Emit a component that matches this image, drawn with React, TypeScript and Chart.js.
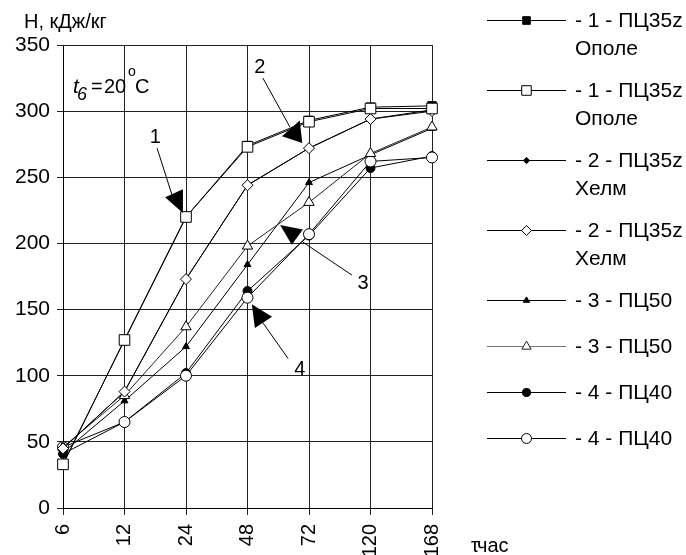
import React, { useEffect, useRef } from 'react';
import { Chart, registerables } from 'chart.js';

Chart.register(...registerables);

const FONT = '"Liberation Sans", Arial, sans-serif';

// ---- data ----
const categories = ['6', '12', '24', '48', '72', '120', '168'];
const yMin = 0;
const yMax = 350;
const yStep = 50;

const s1Filled = [33, 127, 220, 274, 293, 303, 304];
const s1Open = [33, 127, 220, 273, 292, 302, 302];
const s2Filled = [45, 88, 173, 244, 272, 294, 301];
const s2Open = [45, 88, 173, 244, 272, 294, 300];
const s3Filled = [42, 81, 122, 184, 246, 267, 287];
const s3Open = [46, 85, 137, 198, 231, 268, 288];
const s4Filled = [41, 65, 102, 164, 206, 257, 266];
const s4Open = [46, 65, 100, 159, 207, 262, 265];

const seriesLabels = [
  ['- 1 - ПЦ35z', 'Ополе'],
  ['- 1 - ПЦ35z', 'Ополе'],
  ['- 2 - ПЦ35z', 'Хелм'],
  ['- 2 - ПЦ35z', 'Хелм'],
  ['- 3 - ПЦ50'],
  ['- 3 - ПЦ50'],
  ['- 4 - ПЦ40'],
  ['- 4 - ПЦ40'],
];

const yTitle = 'H, кДж/кг';
const xTitleSymbol = 'τ';
const xTitleUnit = 'час';

// curve annotation labels (1..4) with leader lines and arrow heads, in data space (category index, value)
const arrowLabels = ['1', '2', '3', '4'];
const arrowLabelAt: [number, number][] = [[1.5, 280], [3.2, 333], [4.88, 170], [3.85, 105]];
const arrowLineFrom: [number, number][] = [[1.53, 272], [3.25, 325], [4.7, 176], [3.66, 113]];
const arrowLineTo: [number, number][] = [[1.77, 237], [3.69, 288], [3.9, 201], [3.25, 140]];
const arrowHeads: [number, number][][] = [
  [[1.66, 235], [1.95, 241], [1.95, 223]],
  [[3.56, 281], [3.85, 293], [3.89, 276]],
  [[3.53, 214], [3.9, 210.5], [3.72, 199]],
  [[3.07, 154], [3.4, 144.5], [3.12, 136]],
];

type Style = { pointStyle: string; radius: number; fill: string; color: string };
const styles: Style[] = [
  { pointStyle: 'rect', radius: 6, fill: '#000', color: '#000' },
  { pointStyle: 'rect', radius: 7.5, fill: '#fff', color: '#000' },
  { pointStyle: 'rectRot', radius: 3.5, fill: '#000', color: '#000' },
  { pointStyle: 'rectRot', radius: 5.5, fill: '#fff', color: '#000' },
  { pointStyle: 'triangle', radius: 4, fill: '#000', color: '#000' },
  { pointStyle: 'triangle', radius: 6, fill: '#fff', color: '#222' },
  { pointStyle: 'circle', radius: 4.5, fill: '#000', color: '#000' },
  { pointStyle: 'circle', radius: 5.5, fill: '#fff', color: '#000' },
];
const seriesData = [s1Filled, s1Open, s2Filled, s2Open, s3Filled, s3Open, s4Filled, s4Open];

function drawMarker(ctx: CanvasRenderingContext2D, st: Style, x: number, y: number, r: number) {
  ctx.save();
  ctx.beginPath();
  if (st.pointStyle === 'rect') {
    const s = Math.SQRT1_2 * r;
    ctx.rect(x - s, y - s, 2 * s, 2 * s);
  } else if (st.pointStyle === 'rectRot') {
    ctx.moveTo(x, y - r);
    ctx.lineTo(x + r, y);
    ctx.lineTo(x, y + r);
    ctx.lineTo(x - r, y);
    ctx.closePath();
  } else if (st.pointStyle === 'triangle') {
    ctx.moveTo(x, y - r);
    ctx.lineTo(x + r * Math.sin((2 * Math.PI) / 3), y - r * Math.cos((2 * Math.PI) / 3));
    ctx.lineTo(x + r * Math.sin((4 * Math.PI) / 3), y - r * Math.cos((4 * Math.PI) / 3));
    ctx.closePath();
  } else {
    ctx.arc(x, y, r, 0, Math.PI * 2);
  }
  ctx.fillStyle = st.fill;
  ctx.fill();
  ctx.lineWidth = 1;
  ctx.strokeStyle = st.color;
  ctx.stroke();
  ctx.restore();
}

const overlayPlugin = {
  id: 'overlay',
  afterDatasetsDraw(chart: any) {
    const ctx: CanvasRenderingContext2D = chart.ctx;
    const xs = chart.scales.x;
    const ys = chart.scales.y;
    const px = (i: number) => xs.getPixelForValue(i);
    const py = (v: number) => ys.getPixelForValue(v);
    ctx.save();
    arrowLabels.forEach((lab, k) => {
      ctx.strokeStyle = '#000';
      ctx.lineWidth = 1;
      ctx.beginPath();
      ctx.moveTo(px(arrowLineFrom[k][0]), py(arrowLineFrom[k][1]));
      ctx.lineTo(px(arrowLineTo[k][0]), py(arrowLineTo[k][1]));
      ctx.stroke();
      const h = arrowHeads[k];
      ctx.fillStyle = '#000';
      ctx.beginPath();
      ctx.moveTo(px(h[0][0]), py(h[0][1]));
      ctx.lineTo(px(h[1][0]), py(h[1][1]));
      ctx.lineTo(px(h[2][0]), py(h[2][1]));
      ctx.closePath();
      ctx.fill();
      ctx.font = `20px ${FONT}`;
      ctx.textAlign = 'center';
      ctx.textBaseline = 'middle';
      ctx.fillText(lab, px(arrowLabelAt[k][0]), py(arrowLabelAt[k][1]));
    });
    ctx.restore();
  },
  afterDraw(chart: any) {
    const ctx: CanvasRenderingContext2D = chart.ctx;
    const area = chart.chartArea;
    ctx.save();
    ctx.fillStyle = '#000';
    ctx.textAlign = 'left';
    ctx.textBaseline = 'alphabetic';
    // y title
    ctx.font = `20px ${FONT}`;
    ctx.fillText(yTitle, 24, 28);
    // x title
    ctx.font = `20px ${FONT}`;
    ctx.fillText(xTitleSymbol, area.right + 39, 552);
    ctx.fillText(xTitleUnit, area.right + 45, 552);
    // t6 = 20 °C
    const bx = area.left + 10;
    const by = 93;
    ctx.font = `italic 21px ${FONT}`;
    ctx.fillText('t', bx, by);
    ctx.font = `italic 18px ${FONT}`;
    ctx.fillText('6', bx + 4, by + 7);
    ctx.font = `20px ${FONT}`;
    ctx.fillText('=', bx + 18, by);
    ctx.fillText('20', bx + 31, by);
    ctx.font = `14px ${FONT}`;
    ctx.fillText('o', bx + 55, by - 17);
    ctx.font = `20px ${FONT}`;
    ctx.fillText('C', bx + 62, by);

    // legend
    const lx0 = 487;
    const lx1 = 566;
    const tx = 575;
    let ly = 20;
    seriesLabels.forEach((lines, i) => {
      const st = styles[i];
      ctx.strokeStyle = i === 5 ? '#777' : '#000';
      ctx.lineWidth = 1;
      ctx.beginPath();
      ctx.moveTo(lx0, ly + 0.5);
      ctx.lineTo(lx1, ly + 0.5);
      ctx.stroke();
      drawMarker(ctx, st, (lx0 + lx1) / 2, ly + 0.5, st.radius * 0.9);
      ctx.fillStyle = '#000';
      ctx.font = `21px ${FONT}`;
      ctx.textAlign = 'left';
      ctx.textBaseline = 'middle';
      lines.forEach((t, j) => ctx.fillText(t, tx, ly + 1 + j * 28));
      ly += lines.length > 1 ? 70 : 46;
    });
    ctx.restore();
  },
};

export default function App() {
  const ref = useRef<HTMLCanvasElement>(null);
  useEffect(() => {
    if (!ref.current) return;
    const chart = new Chart(ref.current, {
      type: 'line',
      data: {
        labels: categories,
        datasets: seriesData.map((d, i) => ({
          label: seriesLabels[i].join(' '),
          data: d,
          borderColor: styles[i].color,
          borderWidth: 1,
          pointStyle: styles[i].pointStyle as any,
          pointRadius: styles[i].radius,
          pointBackgroundColor: styles[i].fill,
          pointBorderColor: '#000',
          pointBorderWidth: 1,
          fill: false,
          tension: 0,
          order: i % 2 === 1 ? 0 : 1,
        })),
      },
      options: {
        responsive: false,
        animation: false,
        events: [],
        layout: { padding: { left: 0, top: 45, right: 254, bottom: 0 } },
        plugins: { legend: { display: false }, tooltip: { enabled: false }, title: { display: false } },
        scales: {
          x: {
            type: 'category',
            offset: false,
            grid: { color: '#222', lineWidth: 1, tickLength: 7 },
            border: { color: '#000', width: 1 },
            ticks: {
              color: '#000',
              font: { size: 20, family: FONT },
              minRotation: 90,
              maxRotation: 90,
              padding: 9,
              autoSkip: false,
            },
            afterFit: (s: any) => {
              s.height = 47;
            },
          },
          y: {
            min: yMin,
            max: yMax,
            grid: { color: '#222', lineWidth: 1, tickLength: 6 },
            border: { color: '#000', width: 1 },
            ticks: {
              stepSize: yStep,
              color: '#000',
              font: { size: 21, family: FONT },
              padding: 7,
            },
            afterFit: (s: any) => {
              s.width = 63;
            },
          },
        },
      },
      plugins: [overlayPlugin],
    });
    return () => chart.destroy();
  }, []);
  return (
    <div style={{ position: 'fixed', left: 0, top: 0, width: 686, height: 555, background: '#fff' }}>
      <canvas ref={ref} width={686} height={555} />
    </div>
  );
}
